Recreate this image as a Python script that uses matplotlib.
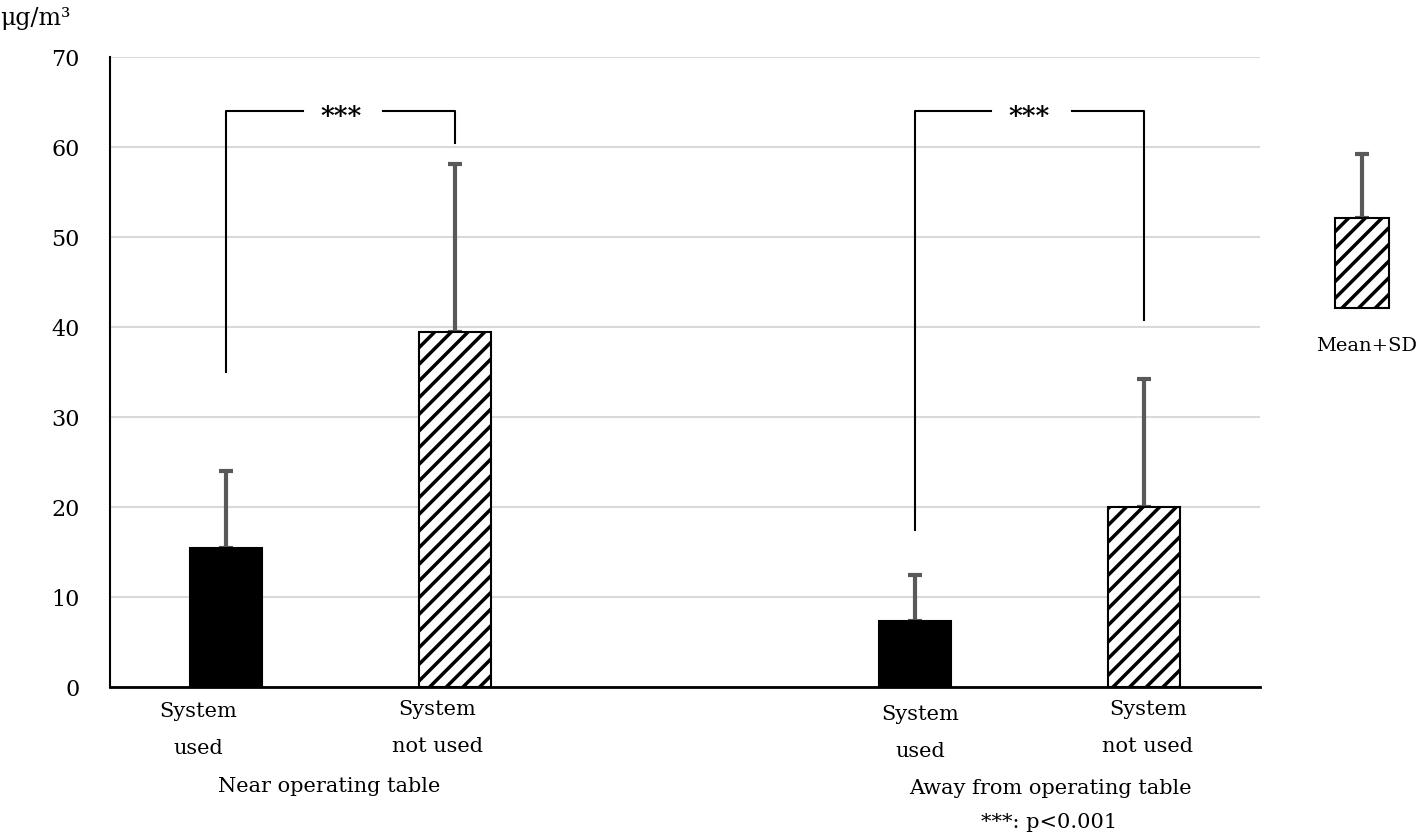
import matplotlib.pyplot as plt

plt.rcParams['font.family'] = ['DejaVu Serif']
plt.rcParams['hatch.linewidth'] = 2.5

# data
positions = [0, 1, 3, 4]
means = [15.4, 39.4, 7.3, 20.0]
sds = [8.6, 18.7, 5.1, 14.2]
filled = [True, False, True, False]
cat_labels = ["System\nused", "System\nnot used", "System\nused", "System\nnot used"]
group_labels = ["Near operating table", "Away from operating table"]
brackets = [(0, 1, 35.0, 60.4), (3, 4, 17.5, 40.8)]
bracket_top = 64.0
legend_mean = 52.1
legend_bottom = 42.1
legend_sd = 7.1

W, H = 1418, 835
fig = plt.figure(figsize=(W / 100, H / 100), dpi=100)


def px(x, y):
    return x / W, 1 - y / H


ax = fig.add_axes([110 / W, 1 - 687 / H, 1150 / W, 630 / H])
ax.set_xlim(-0.505, 4.505)
ax.set_ylim(0, 70)
ax.set_yticks(range(0, 71, 10))
ax.set_xticks([])
ax.tick_params(axis='y', length=0, pad=22, labelsize=16)
ax.grid(axis='y', color='#d9d9d9', lw=1.5)
ax.set_axisbelow(True)
for s in ['top', 'right']:
    ax.spines[s].set_visible(False)
ax.spines['left'].set_linewidth(1.5)
ax.spines['bottom'].set_linewidth(2)

for p, m, s, f in zip(positions, means, sds, filled):
    ax.bar(p, m, width=0.314, color='black' if f else 'white',
           edgecolor='black', lw=1.5, hatch=None if f else '//', zorder=3)
    ax.errorbar(p, m, yerr=[[0], [s]], color='#595959', lw=3, capsize=5,
                capthick=3, zorder=2)

for a, b, y1, y2 in brackets:
    mid = (a + b) / 2
    ax.plot([a, a, mid - 0.165], [y1, bracket_top, bracket_top], color='black', lw=1.5)
    ax.plot([mid + 0.185, b, b], [bracket_top, bracket_top, y2], color='black', lw=1.5)
    ax.text(mid, bracket_top - 0.6, "***", ha='center', va='center', fontsize=19,
            fontweight='bold')

# category labels
label_px = [(198, 730), (437, 728), (920, 733), (1148, 728)]
for (x, y), t in zip(label_px, cat_labels):
    fig.text(*px(x, y), t, ha='center', va='center', fontsize=15, linespacing=2.2)
fig.text(*px(329, 787), group_labels[0], ha='center', va='center', fontsize=15)
fig.text(*px(1050, 789), group_labels[1], ha='center', va='center', fontsize=15)
fig.text(*px(1049, 823), "***: p<0.001", ha='center', va='center', fontsize=15)
fig.text(*px(0, 19), "μg/m³", ha='left', va='center', fontsize=17)

# legend key
lax = fig.add_axes([1300 / W, 1 - 687 / H, 115 / W, 630 / H])
lax.set_xlim(1300, 1415)
lax.set_ylim(0, 70)
lax.axis('off')
lax.bar(1362, legend_mean - legend_bottom, bottom=legend_bottom, width=54,
        color='white', edgecolor='black', lw=1.5, hatch='//', zorder=3)
lax.errorbar(1362, legend_mean, yerr=[[0], [legend_sd]], color='#595959', lw=3,
             capsize=5, capthick=3, zorder=2)
fig.text(*px(1367, 346), "Mean+SD", ha='center', va='center', fontsize=14)

fig.savefig("out.png", dpi=100)
